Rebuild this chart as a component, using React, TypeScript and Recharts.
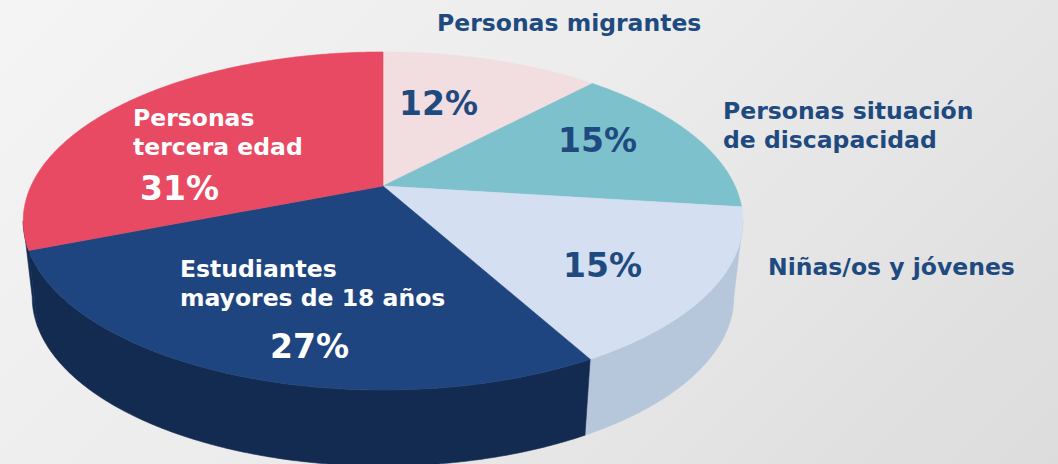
import React from 'react';
import { PieChart, Pie } from 'recharts';

// ---- data ----
const categories = [
  'Personas migrantes',
  'Personas situación\nde discapacidad',
  'Niñas/os y jóvenes',
  'Estudiantes\nmayores de 18 años',
  'Personas\ntercera edad',
];
const values = [12, 15, 15, 27, 31];
const topColors = ['#f2dde0', '#7dc1cc', '#d4dff2', '#1f4580', '#e84a63'];
const sideColors = ['#d8c3c6', '#5d9ea8', '#b6c7dc', '#142b51', '#142b51'];
const labelColors = ['#1f4a80', '#1f4a80', '#1f4a80', '#ffffff', '#ffffff'];

// ---- layout (text anchors, left x / first baseline y) ----
const nameAnchors: [number, number][] = [[437, 31], [723, 119], [768, 275], [180, 277], [133, 126]];
const pctAnchors: [number, number][] = [[399, 115], [558, 152], [563, 277], [270, 358], [140, 200]];

const data = categories.map((name, i) => ({ name, value: values[i] }));

const W = 1058;
const H = 464;
const FONT = "'DejaVu Sans', Verdana, sans-serif";

// perspective parameters for the tilted disc
const K = -0.207;
const B_RATIO = 161.8 / 352;
const DEPTH = 76;
const BOTTOM_X = 0.975;
const THETA_R = (Math.acos(K) * 180) / Math.PI; // right silhouette
const THETA_L = 360 - THETA_R; // left silhouette

function proj(cx: number, cy: number, R: number, deg: number, bottom: boolean): [number, number] {
  const t = (deg * Math.PI) / 180;
  const u = Math.sin(t);
  const v = -Math.cos(t);
  const den = 1 + K * v;
  const sx = bottom ? BOTTOM_X : 1;
  return [cx + (R * sx * u) / den, cy + (bottom ? DEPTH : 0) + (R * B_RATIO * v) / den];
}

function arcPoints(cx: number, cy: number, R: number, a: number, b: number, bottom: boolean) {
  const pts: [number, number][] = [];
  const n = Math.max(2, Math.ceil(Math.abs(b - a) / 0.5));
  for (let i = 0; i <= n; i++) pts.push(proj(cx, cy, R, a + ((b - a) * i) / n, bottom));
  return pts;
}

const fmt = (p: [number, number]) => `${p[0].toFixed(2)},${p[1].toFixed(2)}`;

const renderSlice = (props: any) => {
  const { cx, cy, outerRadius, startAngle, endAngle, index } = props;
  const t0 = 90 - startAngle;
  const t1 = 90 - endAngle;
  const top = arcPoints(cx, cy, outerRadius, t0, t1, false);
  const topD = `M${cx},${cy} L${top.map(fmt).join(' L')} Z`;
  let wallD = '';
  const w0 = Math.max(t0, THETA_R);
  const w1 = Math.min(t1, THETA_L);
  if (w1 > w0) {
    const a = arcPoints(cx, cy, outerRadius, w0, w1, false);
    const b = arcPoints(cx, cy, outerRadius, w0, w1, true).reverse();
    wallD = `M${a.map(fmt).join(' L')} L${b.map(fmt).join(' L')} Z`;
  }
  return (
    <g key={`slice-${index}`}>
      {wallD && <path d={wallD} fill={sideColors[index]} stroke={sideColors[index]} strokeWidth={0.6} />}
      <path d={topD} fill={topColors[index]} stroke={topColors[index]} strokeWidth={0.6} />
    </g>
  );
};

const renderText = (props: any) => {
  const { index, value } = props;
  const lines = categories[index].split('\n');
  const [nx, ny] = nameAnchors[index];
  const [px, py] = pctAnchors[index];
  const color = labelColors[index];
  return (
    <g key={`txt-${index}`}>
      <text x={nx} y={ny} fill={color} fontFamily={FONT} fontWeight="bold" fontSize={23.5} textAnchor="start">
        {lines.map((l, i) => (
          <tspan key={i} x={nx} y={ny + i * 29}>
            {l}
          </tspan>
        ))}
      </text>
      <text x={px} y={py} fill={color} fontFamily={FONT} fontWeight="bold" fontSize={33} textAnchor="start">
        {`${value}%`}
      </text>
    </g>
  );
};

export default function App() {
  return (
    <div
      style={{
        position: 'absolute',
        left: 0,
        top: 0,
        width: W,
        height: H,
        overflow: 'hidden',
        background: 'linear-gradient(135deg, #f4f4f4 0%, #ececec 45%, #dcdcdc 100%)',
      }}
    >
      <PieChart width={W} height={H} margin={{ top: 0, right: 0, bottom: 0, left: 0 }}>
        <Pie
          data={data}
          dataKey="value"
          nameKey="name"
          cx={383}
          cy={186}
          innerRadius={0}
          outerRadius={352}
          startAngle={90}
          endAngle={-270}
          fill="transparent"
          stroke="none"
          label={renderSlice}
          labelLine={false}
          isAnimationActive={false}
        />
        <Pie
          data={data}
          dataKey="value"
          nameKey="name"
          cx={383}
          cy={186}
          innerRadius={0}
          outerRadius={352}
          startAngle={90}
          endAngle={-270}
          fill="transparent"
          stroke="none"
          label={renderText}
          labelLine={false}
          isAnimationActive={false}
        />
      </PieChart>
    </div>
  );
}
